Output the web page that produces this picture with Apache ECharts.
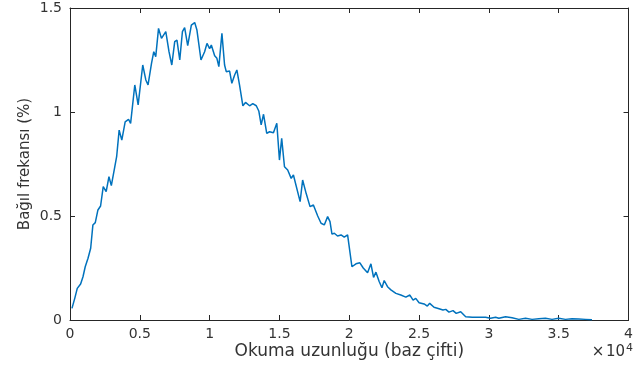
<!DOCTYPE html>
<html>
<head>
<meta charset="utf-8">
<script src="https://cdn.jsdelivr.net/npm/echarts@6/dist/echarts.min.js"></script>
<style>
  html, body { margin: 0; padding: 0; background: #ffffff; }
  #chart { width: 636px; height: 370px; }
</style>
</head>
<body>
<div id="chart"></div>
<script>
// Read length (base pairs) of each histogram point
const readLength = [
  140, 340, 520, 760, 930, 1090, 1290, 1480, 1640, 1810,
  2000, 2190, 2380, 2590, 2790, 2960, 3210, 3340, 3520, 3710,
  3950, 4190, 4340, 4640, 4880, 5210, 5430, 5590, 5840, 6000,
  6140, 6340, 6550, 6860, 7090, 7290, 7500, 7660, 7860, 8050,
  8210, 8430, 8690, 8930, 9090, 9380, 9640, 9810, 10000, 10120,
  10360, 10520, 10660, 10880, 11070, 11190, 11430, 11590, 11790, 11950,
  12140, 12380, 12570, 12860, 13090, 13340, 13520, 13690, 13860, 14090,
  14290, 14570, 14810, 15000, 15160, 15360, 15590, 15840, 16000, 16140,
  16480, 16660, 16910, 17190, 17430, 17740, 17980, 18210, 18450, 18620,
  18760, 18930, 19160, 19410, 19640, 19880, 20190, 20480, 20760, 21000,
  21310, 21550, 21740, 21910, 22140, 22340, 22500, 22740, 22980, 23340,
  23690, 24050, 24340, 24570, 24760, 25000, 25360, 25590, 25760, 26070,
  26430, 26710, 26910, 27140, 27430, 27660, 27980, 28340, 28810, 29290,
  29760, 30120, 30480, 30710, 31190, 31660, 32140, 32620, 33090, 33570,
  34050, 34520, 35000, 35480, 35950, 36430, 36910, 37380
];

// Relative frequency (%) at each read length
const relFreq = [
  0.056, 0.104, 0.152, 0.173, 0.208, 0.256, 0.297, 0.345, 0.457, 0.468,
  0.529, 0.548, 0.641, 0.617, 0.689, 0.646, 0.737, 0.785, 0.913, 0.865,
  0.953, 0.965, 0.945, 1.130, 1.034, 1.226, 1.154, 1.130, 1.235, 1.290,
  1.266, 1.402, 1.354, 1.386, 1.290, 1.226, 1.338, 1.346, 1.250, 1.386,
  1.406, 1.319, 1.418, 1.430, 1.394, 1.250, 1.290, 1.330, 1.305, 1.322,
  1.270, 1.258, 1.218, 1.378, 1.226, 1.194, 1.197, 1.138, 1.178, 1.202,
  1.130, 1.030, 1.046, 1.030, 1.040, 1.030, 1.005, 0.938, 0.989, 0.897,
  0.905, 0.900, 0.946, 0.769, 0.873, 0.737, 0.721, 0.681, 0.697, 0.705,
  0.569, 0.673, 0.609, 0.545, 0.553, 0.500, 0.465, 0.457, 0.497, 0.473,
  0.413, 0.417, 0.404, 0.409, 0.398, 0.409, 0.256, 0.270, 0.275, 0.250,
  0.227, 0.270, 0.205, 0.230, 0.185, 0.155, 0.190, 0.160, 0.145, 0.128,
  0.120, 0.110, 0.120, 0.096, 0.104, 0.083, 0.077, 0.067, 0.080, 0.061,
  0.054, 0.048, 0.051, 0.038, 0.045, 0.032, 0.040, 0.016, 0.013, 0.013,
  0.013, 0.008, 0.013, 0.008, 0.016, 0.011, 0.003, 0.008, 0.003, 0.006,
  0.008, 0.003, 0.008, 0.003, 0.006, 0.005, 0.003, 0.001
];

// Axis ranges and tick steps
const xRange = [0, 40000];
const xStep = 5000;
const xScale = 10000;          // tick labels are shown in units of 10^4
const yRange = [0, 1.5];
const yStep = 0.5;

const axisColor = '#262626';
const textColor = '#333333';
const fontFamily = 'DejaVu Sans';

const points = readLength.map((x, i) => [x, relFreq[i]]);

// Shared style for the four sides of the box: inward ticks, no grid
const frameAxis = {
  axisLine: { show: true, onZero: false, lineStyle: { color: axisColor, width: 1 } },
  axisTick: { show: true, inside: true, length: 5, lineStyle: { color: axisColor, width: 1 } },
  splitLine: { show: false }
};

const chart = echarts.init(document.getElementById('chart'), null, { renderer: 'canvas' });

chart.setOption({
  animation: false,
  backgroundColor: '#ffffff',
  grid: { left: 70, right: 6, top: 8, bottom: 50, containLabel: false },
  xAxis: [
    Object.assign({
      type: 'value', position: 'bottom',
      min: xRange[0], max: xRange[1], interval: xStep,
      name: 'Okuma uzunluğu (baz çifti)',
      nameLocation: 'middle', nameGap: 23, nameMoveOverlap: false,
      nameTextStyle: { color: textColor, fontFamily, fontSize: 17 },
      axisLabel: {
        color: textColor, fontFamily, fontSize: 14, margin: 7,
        formatter: v => String(v / xScale)
      }
    }, frameAxis),
    Object.assign({
      type: 'value', position: 'top',
      min: xRange[0], max: xRange[1], interval: xStep,
      axisLabel: { show: false }
    }, frameAxis)
  ],
  yAxis: [
    Object.assign({
      type: 'value', position: 'left',
      min: yRange[0], max: yRange[1], interval: yStep,
      name: 'Bağıl frekansı (%)',
      nameLocation: 'middle', nameGap: 37, nameMoveOverlap: false,
      nameTextStyle: { color: textColor, fontFamily, fontSize: 15 },
      axisLabel: {
        color: textColor, fontFamily, fontSize: 14, margin: 8,
        formatter: v => String(v)
      }
    }, frameAxis),
    Object.assign({
      type: 'value', position: 'right',
      min: yRange[0], max: yRange[1], interval: yStep,
      axisLabel: { show: false }
    }, frameAxis)
  ],
  graphic: [{
    type: 'text',
    right: 3,
    bottom: 10,
    style: {
      text: '×\u200a10{sup|4}',
      fill: textColor,
      font: '15px "DejaVu Sans"',
      rich: {
        sup: { fontSize: 11, fontFamily: 'DejaVu Sans', verticalAlign: 'top', padding: [0, 0, 9, 1], fill: textColor }
      }
    }
  }],
  series: [{
    type: 'line',
    xAxisIndex: 0,
    yAxisIndex: 0,
    data: points,
    showSymbol: false,
    smooth: false,
    lineStyle: { color: '#0072BD', width: 1.5 },
    emphasis: { disabled: true }
  }]
});
</script>
</body>
</html>
